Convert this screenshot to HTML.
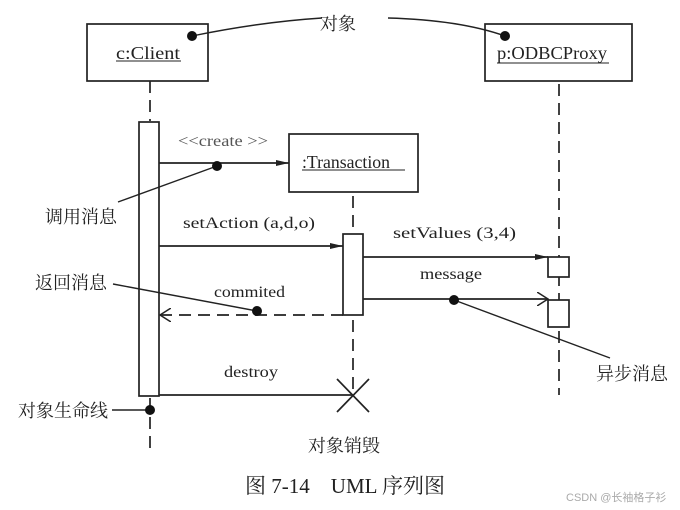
<!DOCTYPE html>
<html><head><meta charset="utf-8"><style>
html,body{margin:0;padding:0;background:#fff;}
svg{display:block}
text{font-family:"Liberation Serif","Noto Serif CJK SC",serif;fill:#222;}
.cn{font-family:"Liberation Serif","Noto Serif CJK SC",serif;}
</style></head><body>
<svg width="680" height="510" viewBox="0 0 680 510" xmlns="http://www.w3.org/2000/svg">
<defs>
<marker id="fa" markerWidth="13" markerHeight="8" refX="13" refY="4" orient="auto" markerUnits="userSpaceOnUse"><path d="M0,1 L13,4 L0,7 Z" fill="#222"/></marker>
<marker id="oa" markerWidth="12" markerHeight="14" refX="11" refY="7" orient="auto" markerUnits="userSpaceOnUse"><path d="M0,0 L11,7 L0,14" fill="none" stroke="#222" stroke-width="1.5"/></marker>
</defs>
<g stroke="#222" stroke-width="1.7" fill="none">
<rect x="87" y="24" width="121" height="57" fill="#fff"/>
<rect x="485" y="24" width="147" height="57" fill="#fff"/>
<rect x="289" y="134" width="129" height="58" fill="#fff"/>
<line x1="150" y1="81" x2="150" y2="121" stroke-dasharray="12,7"/>
<line x1="150" y1="398" x2="150" y2="448" stroke-dasharray="12,7"/>
<line x1="353" y1="196" x2="353" y2="234" stroke-dasharray="12,7"/>
<line x1="353" y1="320" x2="353" y2="395" stroke-dasharray="12,7"/>
<line x1="559" y1="84" x2="559" y2="395" stroke-dasharray="12,7"/>
<rect x="139" y="122" width="20" height="274" fill="#fff"/>
<rect x="343" y="234" width="20" height="81" fill="#fff"/>
<rect x="548" y="257" width="21" height="20" fill="#fff"/>
<rect x="548" y="300" width="21" height="27" fill="#fff"/>
<line x1="159" y1="163" x2="289" y2="163" marker-end="url(#fa)"/>
<line x1="159" y1="246" x2="343" y2="246" marker-end="url(#fa)"/>
<line x1="363" y1="257" x2="548" y2="257" marker-end="url(#fa)"/>
<line x1="363" y1="299" x2="548" y2="299" marker-end="url(#oa)"/>
<line x1="343" y1="315" x2="160" y2="315" stroke-dasharray="12,7" marker-end="url(#oa)"/>
<line x1="159" y1="395" x2="353" y2="395"/>
<line x1="337" y1="379" x2="369" y2="412"/>
<line x1="369" y1="379" x2="337" y2="412"/>
<path d="M192,36 Q260,22 322,18" stroke-width="1.4"/>
<path d="M388,18 Q460,20 505,36" stroke-width="1.4"/>
<line x1="118" y1="202" x2="217" y2="166" stroke-width="1.4"/>
<line x1="113" y1="284" x2="257" y2="311" stroke-width="1.4"/>
<line x1="454" y1="300" x2="610" y2="358" stroke-width="1.4"/>
<line x1="112" y1="410" x2="150" y2="410" stroke-width="1.4"/>
<line x1="116" y1="61" x2="181" y2="61" stroke-width="1.1"/>
<line x1="497" y1="63" x2="609" y2="63" stroke-width="1.1"/>
<line x1="302" y1="170" x2="405" y2="170" stroke-width="1.1"/>
</g>
<g fill="#111">
<circle cx="192" cy="36" r="5"/>
<circle cx="505" cy="36" r="5"/>
<circle cx="217" cy="166" r="5"/>
<circle cx="257" cy="311" r="5"/>
<circle cx="454" cy="300" r="5"/>
<circle cx="150" cy="410" r="5"/>
</g>
<g font-size="18">
<text x="116" y="59" textLength="64" lengthAdjust="spacingAndGlyphs">c:Client</text>
<text x="497" y="59" textLength="110" lengthAdjust="spacingAndGlyphs">p:ODBCProxy</text>
<text x="302" y="168" textLength="88" lengthAdjust="spacingAndGlyphs">:Transaction</text>
</g>
<g font-size="16">
<text x="178" y="146" style="fill:#555" textLength="90" lengthAdjust="spacingAndGlyphs">&lt;&lt;create &gt;&gt;</text>
<text x="183" y="228" textLength="132" lengthAdjust="spacingAndGlyphs">setAction  (a,d,o)</text>
<text x="393" y="238" textLength="123" lengthAdjust="spacingAndGlyphs">setValues  (3,4)</text>
<text x="420" y="279" textLength="62" lengthAdjust="spacingAndGlyphs">message</text>
<text x="214" y="297" textLength="71" lengthAdjust="spacingAndGlyphs">commited</text>
<text x="224" y="377" textLength="54" lengthAdjust="spacingAndGlyphs">destroy</text>
</g>
<g font-size="18">
<text class="cn" x="320" y="30">对象</text>
<text class="cn" x="45" y="223">调用消息</text>
<text class="cn" x="35" y="289">返回消息</text>
<text class="cn" x="596" y="380">异步消息</text>
<text class="cn" x="18" y="417">对象生命线</text>
<text class="cn" x="308" y="452">对象销毁</text>
</g>
<text x="245" y="493" font-size="21" textLength="200" lengthAdjust="spacingAndGlyphs">图 7-14　UML 序列图</text>
<text x="566" y="501" font-size="11" style="fill:#aaa;font-family:'Liberation Sans','Noto Sans CJK SC',sans-serif">CSDN @长袖格子衫</text>
</svg>
</body></html>
